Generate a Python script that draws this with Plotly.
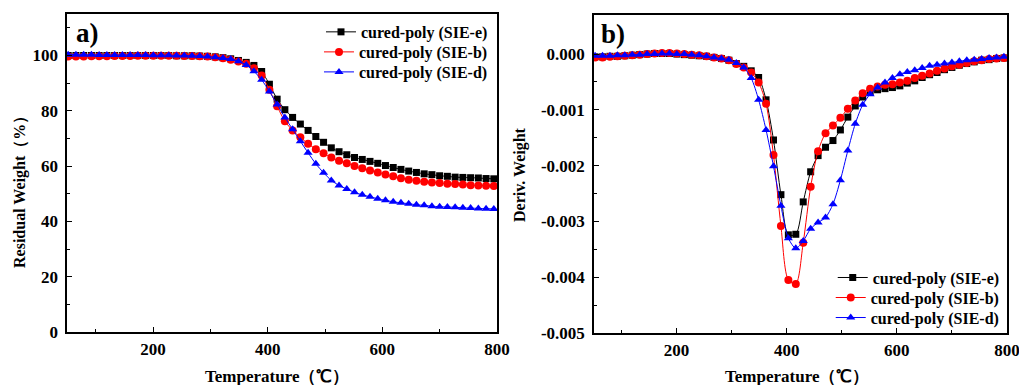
import plotly.graph_objects as go

# Temperatures (°C) at which markers are drawn
temperature = [52, 65.5, 79, 92.5, 106, 119.5, 133, 146.5, 160, 173.5, 187, 200.5, 214, 227.5,
               241, 254.5, 268, 281.5, 295, 308.5, 322, 335.5, 349, 362.5, 376, 389.5, 403, 416.5,
               430, 443.5, 457, 470.5, 484, 497.5, 511, 524.5, 538, 551.5, 565, 578.5, 592, 605.5,
               619, 632.5, 646, 659.5, 673, 686.5, 700, 713.5, 727, 740.5, 754, 767.5, 781, 794.5]

series_names = ["cured-poly (SIE-e)", "cured-poly (SIE-b)", "cured-poly (SIE-d)"]

# a) Residual weight (%)
weight_e = [100.0, 100.0, 100.0, 100.0, 100.0, 100.0, 100.0, 100.0, 100.0, 100.0, 100.0, 100.0, 100.0, 100.0,
            99.9, 99.9, 99.9, 99.8, 99.7, 99.5, 99.2, 98.8, 98.2, 97.5, 96.4, 94.2, 89.6, 84.2,
            80.4, 77.6, 75.2, 72.9, 70.7, 68.6, 66.6, 65.2, 64.1, 63.1, 62.4, 61.7, 61.0, 60.2,
            59.5, 58.8, 58.2, 57.7, 57.2, 56.9, 56.5, 56.3, 56.0, 55.9, 55.8, 55.7, 55.5, 55.4]
weight_b = [99.6, 99.6, 99.6, 99.7, 99.7, 99.7, 99.8, 99.8, 99.8, 99.9, 99.9, 99.9, 99.9, 99.9,
            99.9, 99.8, 99.8, 99.7, 99.6, 99.4, 99.0, 98.5, 97.8, 97.0, 95.4, 92.8, 87.6, 81.6,
            76.2, 72.9, 70.4, 68.1, 66.1, 64.6, 63.1, 61.9, 61.0, 60.0, 59.2, 58.4, 57.7, 57.0,
            56.3, 55.6, 55.1, 54.7, 54.3, 54.1, 53.9, 53.6, 53.5, 53.3, 53.1, 53.0, 52.9, 52.8]
weight_d = [100.3, 100.3, 100.3, 100.3, 100.2, 100.2, 100.2, 100.2, 100.2, 100.2, 100.2, 100.1, 100.1, 100.1,
            100.0, 100.0, 99.9, 99.8, 99.6, 99.4, 99.1, 98.7, 97.9, 96.6, 94.3, 91.2, 87.0, 82.3,
            77.6, 73.3, 69.0, 64.8, 60.8, 57.6, 54.8, 53.0, 51.7, 50.5, 49.6, 48.9, 48.2, 47.6,
            47.1, 46.7, 46.4, 46.0, 45.8, 45.5, 45.3, 45.2, 45.1, 44.9, 44.8, 44.7, 44.6, 44.5]

# b) Derivative weight
deriv_e = [-0.00005, -0.00005, -0.00004, -0.00004, -0.00003, -0.00002, -0.00001, 0.0, 0.00001, 0.00001,
           0.00001, 0.0, -0.00001, -0.00002, -0.00003, -0.00004, -0.00006, -0.00008, -0.00011, -0.00017,
           -0.00022, -0.00030, -0.00042, -0.00082, -0.00154, -0.00252, -0.00324, -0.00323, -0.00265, -0.00211,
           -0.00182, -0.00167, -0.00155, -0.00136, -0.00113, -0.00093, -0.00077, -0.00068, -0.00064, -0.00062,
           -0.00060, -0.00057, -0.00052, -0.00048, -0.00042, -0.00037, -0.00033, -0.00028, -0.00024, -0.00020,
           -0.00017, -0.00014, -0.00011, -0.00010, -0.00008, -0.00007]
deriv_b = [-0.00006, -0.00006, -0.00005, -0.00004, -0.00003, -0.00002, -0.00001, 0.0, 0.00001, 0.00002,
           0.00002, 0.00001, 0.0, -0.00001, -0.00002, -0.00004, -0.00006, -0.00008, -0.00011, -0.00018,
           -0.00024, -0.00033, -0.00051, -0.00089, -0.00181, -0.00308, -0.00405, -0.00412, -0.00338, -0.00238,
           -0.00174, -0.00142, -0.00128, -0.00114, -0.00098, -0.00083, -0.00070, -0.00062, -0.00058, -0.00055,
           -0.00054, -0.00051, -0.00048, -0.00043, -0.00039, -0.00035, -0.00030, -0.00026, -0.00022, -0.00019,
           -0.00016, -0.00013, -0.00011, -0.00009, -0.00008, -0.00007]
deriv_d = [-0.00003, -0.00003, -0.00003, -0.00002, -0.00002, -0.00001, -0.00001, 0.0, 0.0, 0.00001,
           0.00001, 0.0, 0.0, -0.00001, -0.00002, -0.00004, -0.00006, -0.00008, -0.00010, -0.00016,
           -0.00024, -0.00043, -0.00082, -0.00136, -0.00201, -0.00272, -0.00330, -0.00348, -0.00335, -0.00313,
           -0.00302, -0.00293, -0.00269, -0.00226, -0.00173, -0.00125, -0.00091, -0.00072, -0.00060, -0.00051,
           -0.00043, -0.00036, -0.00032, -0.00029, -0.00025, -0.00021, -0.00019, -0.00017, -0.00015, -0.00013,
           -0.00011, -0.00010, -0.00009, -0.00007, -0.00006, -0.00005]

x_ticks = [200, 400, 600, 800]
y1_ticks = [0, 20, 40, 60, 80, 100]
y2_ticks = [0.0, -0.001, -0.002, -0.003, -0.004, -0.005]
y2_ticktext = ["0.000", "-0.001", "-0.002", "-0.003", "-0.004", "-0.005"]
y2_minor = [-0.0045, -0.0035, -0.0025, -0.0015, -0.0005]

colors = ["#000000", "#FF0000", "#0000FF"]
symbols = ["square", "circle", "triangle-up"]
sizes = [7, 8, 8]

FONT = "Liberation Serif"

# one legend per entry so that the row spacing can match the original
left_legends = ["legend", "legend2", "legend3"]
right_legends = ["legend4", "legend5", "legend6"]
left_legend_y = [0.917, 0.865, 0.813]
right_legend_y = [0.279, 0.227, 0.175]

fig = go.Figure()
for name, ys, c, s, sz, lg in zip(series_names, [weight_e, weight_b, weight_d], colors, symbols, sizes, left_legends):
    fig.add_trace(go.Scatter(x=temperature, y=ys, name=name, mode="lines+markers",
                             line=dict(color=c, width=1, shape="spline", smoothing=0.6),
                             marker=dict(symbol=s, size=sz, color=c),
                             xaxis="x", yaxis="y", legend=lg))
for name, ys, c, s, sz, lg in zip(series_names, [deriv_e, deriv_b, deriv_d], colors, symbols, sizes, right_legends):
    fig.add_trace(go.Scatter(x=temperature, y=ys, name=name, mode="lines+markers",
                             line=dict(color=c, width=1, shape="spline", smoothing=0.8),
                             marker=dict(symbol=s, size=sz, color=c),
                             xaxis="x2", yaxis="y2", legend=lg))

tickfont = dict(family=FONT, size=17, color="black", weight="bold")
axis_common = dict(showline=True, linecolor="black", linewidth=1.5, mirror=True,
                   ticks="inside", ticklen=5, tickwidth=1.2, tickcolor="black",
                   showgrid=False, zeroline=False, tickfont=tickfont, automargin=False,
                   ticklabeloverflow="allow")

legend_font = dict(family=FONT, size=16, color="black", weight="bold")
legend_layout = {}
for lg, yy in zip(left_legends, left_legend_y):
    legend_layout[lg] = dict(x=0.4838, xanchor="right", y=yy, yanchor="middle",
                             bgcolor="rgba(0,0,0,0)", font=legend_font)
for lg, yy in zip(right_legends, right_legend_y):
    legend_layout[lg] = dict(x=0.986, xanchor="right", y=yy, yanchor="middle",
                             bgcolor="rgba(0,0,0,0)", font=legend_font)

fig.update_layout(
    width=1019, height=385,
    margin=dict(l=0, r=0, t=0, b=0),
    paper_bgcolor="white", plot_bgcolor="white",
    font=dict(family=FONT, color="black"),
    xaxis=dict(domain=[0.0658, 0.4877], range=[50, 800], tickvals=x_ticks, anchor="y",
               minor=dict(ticks="inside", ticklen=3, dtick=100, tick0=0, tickcolor="black"),
               ticklabelstandoff=1, **axis_common),
    yaxis=dict(domain=[0.1377, 0.9636], range=[0, 115], tickvals=y1_ticks, anchor="x",
               minor=dict(ticks="inside", ticklen=3, dtick=10, tick0=0, tickcolor="black"),
               ticklabelstandoff=4, **axis_common),
    xaxis2=dict(domain=[0.5829, 0.9882], range=[50, 800], tickvals=x_ticks, anchor="y2",
                minor=dict(ticks="inside", ticklen=3, dtick=100, tick0=0, tickcolor="black"),
                ticklabelstandoff=1, **axis_common),
    yaxis2=dict(domain=[0.135, 0.961], range=[-0.005, 0.0007], tickvals=y2_ticks, ticktext=y2_ticktext,
                anchor="x2", minor=dict(ticks="inside", ticklen=3, tickvals=y2_minor, tickcolor="black"),
                ticklabelstandoff=4, **axis_common),
    showlegend=True,
    **legend_layout,
)

title_font = dict(family=FONT, size=17, color="black", weight="bold")
ytitle_font = dict(family=FONT, size=16, color="black", weight="bold")
fig.add_annotation(text="Temperature（℃）", x=0.2718, y=0.0208, xref="paper", yref="paper",
                   xanchor="center", yanchor="middle", showarrow=False, font=title_font)
fig.add_annotation(text="Temperature（℃）", x=0.782, y=0.0208, xref="paper", yref="paper",
                   xanchor="center", yanchor="middle", showarrow=False, font=title_font)
fig.add_annotation(text="Residual Weight（%）", x=0.0196, y=0.5117, xref="paper", yref="paper",
                   xanchor="center", yanchor="middle", textangle=-90, showarrow=False, font=ytitle_font)
fig.add_annotation(text="Deriv. Weight", x=0.5103, y=0.548, xref="paper", yref="paper",
                   xanchor="center", yanchor="middle", textangle=-90, showarrow=False, font=ytitle_font)
label_font = dict(family=FONT, size=27, color="black", weight="bold")
fig.add_annotation(text="a)", x=0.0854, y=0.914, xref="paper", yref="paper",
                   xanchor="center", yanchor="middle", showarrow=False, font=label_font)
fig.add_annotation(text="b)", x=0.6016, y=0.912, xref="paper", yref="paper",
                   xanchor="center", yanchor="middle", showarrow=False, font=label_font)

fig.write_html("out.html")
